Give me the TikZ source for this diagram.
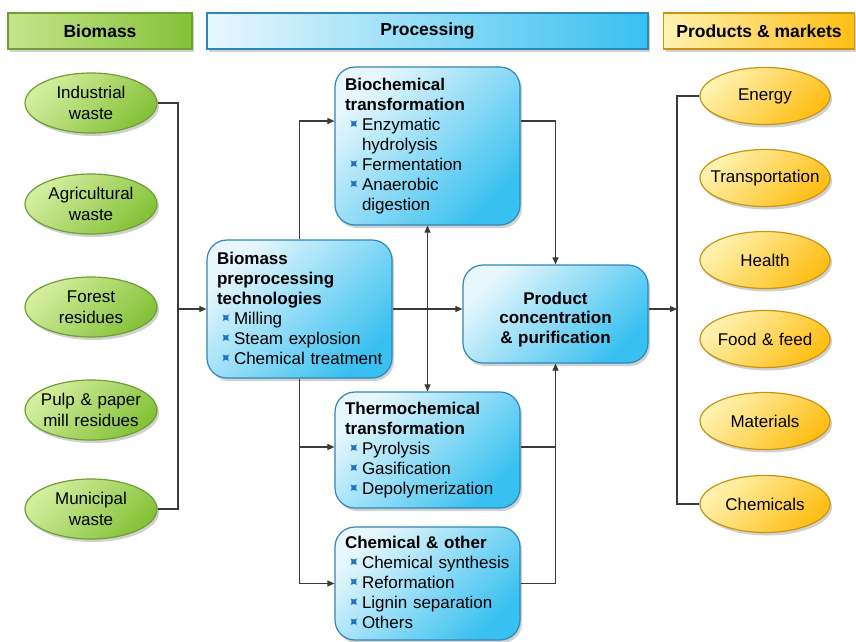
\documentclass[tikz,border=0pt]{standalone}
\usepackage{fontspec}
\setmainfont{Liberation Sans}
\newfontfamily\dejavu{DejaVu Sans}
\usepackage{graphicx}
\usetikzlibrary{shapes.geometric,shadows,arrows.meta,calc}
\definecolor{bl1}{HTML}{E8F7FD}
\definecolor{bl2}{HTML}{38C0F0}
\definecolor{blline}{HTML}{2F86B8}
\definecolor{g1}{HTML}{D4EEA0}
\definecolor{g2}{HTML}{84C238}
\definecolor{gline}{HTML}{6E9E34}
\definecolor{y1}{HTML}{FFF2B0}
\definecolor{y2}{HTML}{FFBE14}
\definecolor{yline}{HTML}{C99412}
\definecolor{conn}{HTML}{3A3A3A}
\definecolor{bulc}{HTML}{1F74C4}
\newcommand{\bul}{\makebox[17pt][l]{\hspace{0.5pt}\textcolor{bulc}{\raisebox{1pt}{\dejavu\fontsize{15}{15}\selectfont\rotatebox[origin=c]{45}{✦}}}}}
\newcommand{\hang}{\hspace*{17pt}}
\newcommand{\wide}[1]{\makebox[90pt][c]{#1}}
\begin{document}
\begin{tikzpicture}[x=1pt,y=-1pt,
  myshadow/.style={drop shadow={shadow xshift=2pt,shadow yshift=-3pt,opacity=0.3,fill=black!60}},
  procbox/.style={draw=blline,line width=1.2pt,rounded corners=20pt,
    top color=bl1,bottom color=bl2,shading angle=45,
    minimum width=185pt,text width=165pt,align=left,inner xsep=10pt,inner ysep=4pt,
    font=\fontsize{17}{20}\selectfont,myshadow},
  greenell/.style={ellipse,draw=gline,line width=1.2pt,top color=g1,bottom color=g2,shading angle=45,
    minimum width=132pt,minimum height=60pt,inner sep=0pt,text width=90pt,align=center,
    font=\fontsize{17}{21}\selectfont,myshadow},
  yellell/.style={ellipse,draw=yline,line width=1.2pt,top color=y1,bottom color=y2,shading angle=45,
    minimum width=130pt,minimum height=57pt,inner sep=0pt,text width=90pt,align=center,
    font=\fontsize{17}{21}\selectfont,myshadow},
  hdr/.style={rectangle,line width=1.2pt,minimum height=36pt,inner sep=0pt,
    font=\fontsize{17.5}{20}\selectfont\bfseries,myshadow},
  conline/.style={draw=conn,line width=1.1pt},
  arr/.style={conline,-{Triangle[length=7pt,width=6pt]}},
  darr/.style={conline,{Triangle[length=7pt,width=6pt]}-{Triangle[length=7pt,width=6pt]}}
]
\useasboundingbox (0,0) rectangle (856,641);

% headers
\node[hdr,draw=gline,left color=g1!80!g2,right color=g2,minimum width=184pt] (hbio) at (100,31) {Biomass};
\node[hdr,draw=blline,left color=bl1,right color=bl2,minimum width=441pt] (hproc) at (427.5,31) {Processing};
\node[hdr,draw=yline,left color=y1,right color=y2,minimum width=191pt] (hprod) at (759,31) {Products \& markets};

% biomass ellipses
\node[greenell] (ind) at (91,103) {Industrial\\waste};
\node[greenell] (agr) at (91,204) {Agricultural\\waste};
\node[greenell] (for) at (91,307) {Forest\\residues};
\node[greenell] (pul) at (91,410) {\wide{Pulp \& paper}\\\wide{mill residues}};
\node[greenell] (mun) at (91,509) {Municipal\\waste};

% product ellipses
\node[yellell] (ene) at (765,96) {Energy};
\node[yellell] (tra) at (765,178) {\wide{Transportation}};
\node[yellell] (hea) at (765,260) {Health};
\node[yellell] (foo) at (765,339) {\wide{Food \& feed}};
\node[yellell] (mat) at (765,421) {Materials};
\node[yellell] (chm) at (765,504) {Chemicals};

% processing boxes
\node[procbox,minimum height=138pt] (pre) at (299.5,309)
  {\textbf{Biomass}\\\textbf{preprocessing}\\\textbf{technologies}\\\bul Milling\\\bul Steam explosion\\\bul \mbox{Chemical treatment}};
\node[procbox,minimum height=158pt] (bio) at (427.5,146)
  {\textbf{Biochemical}\\\textbf{transformation}\\\bul Enzymatic\\\hang hydrolysis\\\bul Fermentation\\\bul Anaerobic\\\hang digestion};
\node[procbox,minimum height=116pt] (the) at (427.5,450)
  {\textbf{Thermochemical}\\\textbf{transformation}\\\bul Pyrolysis\\\bul Gasification\\\bul \mbox{Depolymerization}};
\node[procbox,minimum height=113pt] (che) at (427.5,583.5)
  {\textbf{Chemical \& other}\\\bul \mbox{Chemical synthesis}\\\bul Reformation\\\bul Lignin separation\\\bul Others};
\node[procbox,minimum height=98pt,align=center,font=\fontsize{17}{19.5}\selectfont\bfseries] (prod) at (555.5,314)
  {\rule{0pt}{23pt}Product\\concentration\\\& purification};

% connectors
\coordinate (lj) at (178,309);
\coordinate (rj) at (677,309);
\draw[conline] (ind.east) -| (lj);
\draw[conline] (mun.east) -| (lj);
\draw[arr] (lj) -- (pre.west);
\draw[arr] (pre.north) |- ([yshift=25pt]bio.west);
\draw[arr] (pre.south) |- ([yshift=3pt]the.west);
\draw[arr] (pre.south) |- (che.west);
\draw[arr] (pre.east) -- (prod.west |- pre.east);
\draw[darr] (bio.south) -- (the.north);
\draw[arr] ([yshift=25pt]bio.east) -| (prod.north);
\draw[conline] ([yshift=3pt]the.east) -| (prod.south);
\draw[arr] (che.east) -| (prod.south);
\draw[arr] (prod.east |- rj) -- (rj);
\draw[conline] (ene.west) -| (rj);
\draw[conline] (chm.west) -| (rj);
\end{tikzpicture}
\end{document}
